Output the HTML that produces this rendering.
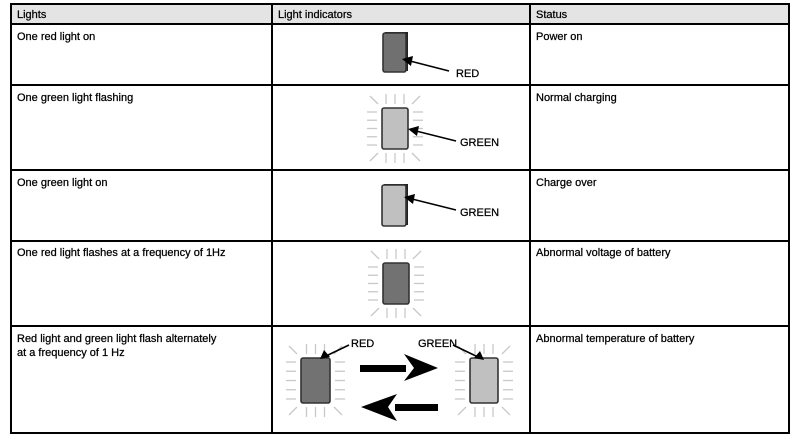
<!DOCTYPE html>
<html><head><meta charset="utf-8"><style>
html,body{margin:0;padding:0;background:#fff;width:792px;height:443px;overflow:hidden}
svg{display:block}
text{font-family:"Liberation Sans",sans-serif;font-size:11px;fill:#000;stroke:#000;stroke-width:0.25}
</style></head><body>
<svg id="s" width="792" height="443" xmlns="http://www.w3.org/2000/svg">
<rect x="11" y="4" width="778" height="20" fill="#e4e4e4"/>
<g stroke="#000" stroke-width="2" fill="none">
<rect x="11" y="4" width="778" height="429"/>
<line x1="11" y1="24" x2="789" y2="24"/>
<line x1="11" y1="85" x2="789" y2="85"/>
<line x1="11" y1="170" x2="789" y2="170"/>
<line x1="11" y1="241" x2="789" y2="241"/>
<line x1="11" y1="326" x2="789" y2="326"/>
<line x1="272" y1="4" x2="272" y2="433"/>
<line x1="530" y1="4" x2="530" y2="433"/>
</g>
<text x="17" y="18">Lights</text>
<text x="278" y="18">Light indicators</text>
<text x="536" y="18">Status</text>
<text x="17" y="40">One red light on</text>
<text x="536" y="40">Power on</text>
<text x="17" y="101">One green light flashing</text>
<text x="536" y="101">Normal charging</text>
<text x="17" y="186">One green light on</text>
<text x="536" y="186">Charge over</text>
<text x="17" y="256">One red light flashes at a frequency of 1Hz</text>
<text x="536" y="256">Abnormal voltage of battery</text>
<text x="17" y="342">Red light and green light flash alternately</text>
<text x="17" y="356">at a frequency of 1 Hz</text>
<text x="536" y="342">Abnormal temperature of battery</text>
<g id="rays" stroke="#c8c8c8" stroke-width="1.3"></g>
<g id="leds"></g>
<g stroke="#000" stroke-width="1.6">
<line x1="449" y1="71" x2="410" y2="61"/>
<line x1="456" y1="141" x2="416" y2="131"/>
<line x1="456" y1="210" x2="412" y2="199"/>
<line x1="349" y1="345" x2="326" y2="356"/>
<line x1="453" y1="345" x2="478" y2="357"/>
</g>
<g fill="#000">
<polygon points="402,59 413,56 411,66"/>
<polygon points="408,129 419,126 417,136"/>
<polygon points="404,197 415,194 413,204"/>
<polygon points="320,359 324,350 330,357"/>
<polygon points="484,360 474,358 480,351"/>
<rect x="360" y="365" width="46" height="7"/>
<polygon points="404,354 438,368 404,381 414,368"/>
<rect x="395" y="404" width="43" height="7"/>
<polygon points="397,394 361,407 397,421 388,407"/>
</g>
<text x="456" y="77">RED</text>
<text x="460" y="146">GREEN</text>
<text x="460" y="216">GREEN</text>
<text x="351" y="347">RED</text>
<text x="418" y="347">GREEN</text>
</svg>
<script>
var R=document.getElementById('rays'),L=document.getElementById('leds'),ns='http://www.w3.org/2000/svg';
function ln(a,b,c,d){var e=document.createElementNS(ns,'line');e.setAttribute('x1',a);e.setAttribute('y1',b);e.setAttribute('x2',c);e.setAttribute('y2',d);R.appendChild(e);}
function rays(x1,y1,x2,y2){var cx=(x1+x2)/2,w=x2-x1,h=y2-y1;
for(var i=-1;i<=1;i++){var x=cx+i*9;ln(x,y1-14,x,y1-4);ln(x,y2+4,x,y2+14);}
for(var j=0;j<5;j++){var y=y1+4+j*(h-8)/4;ln(x1-15,y,x1-5,y);ln(x2+5,y,x2+15,y);}
ln(x1-12,y1-12,x1-4,y1-4);ln(x2+12,y1-12,x2+4,y1-4);ln(x1-12,y2+12,x1-4,y2+4);ln(x2+12,y2+12,x2+4,y2+4);}
function led(x1,y1,x2,y2,f,sh){var r=document.createElementNS(ns,'rect');
if(sh){var s=document.createElementNS(ns,'rect');s.setAttribute('x',x1+2);s.setAttribute('y',y1-1);s.setAttribute('width',x2-x1);s.setAttribute('height',y2-y1);s.setAttribute('fill','#222');L.appendChild(s);}
r.setAttribute('x',x1);r.setAttribute('y',y1);r.setAttribute('width',x2-x1);r.setAttribute('height',y2-y1);r.setAttribute('rx',2);r.setAttribute('fill',f);r.setAttribute('stroke','#333');r.setAttribute('stroke-width',1.6);L.appendChild(r);}
rays(382,108,408,149);rays(383,263,409,304);rays(301,358,330,403);rays(470,358,498,403);
led(383,33,406,72,'#707070',1);
led(382,108,408,149,'#c0c0c0',0);
led(382,185,406,226,'#c0c0c0',1);
led(383,263,409,304,'#727272',0);
led(301,358,330,403,'#727272',0);
led(470,358,498,403,'#c0c0c0',0);
</script>
</body></html>
